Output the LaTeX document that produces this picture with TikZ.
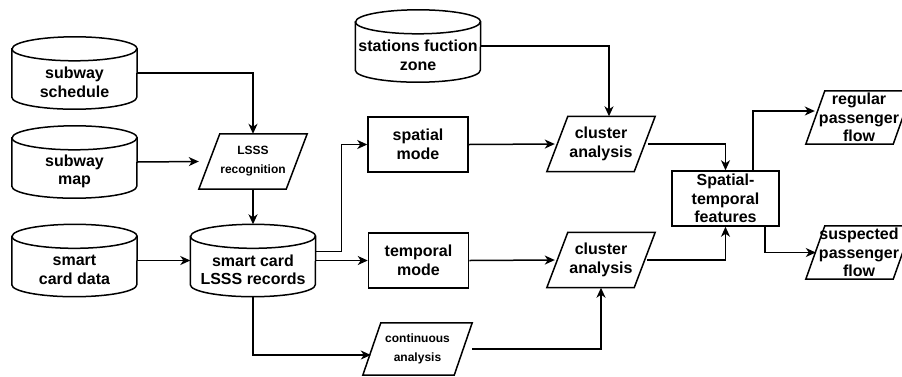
\documentclass[tikz,border=0pt]{standalone}
\usepackage{fontspec}
\setmainfont{Liberation Sans}
\usetikzlibrary{arrows.meta}
\tikzset{
  shp/.style={draw=black, line width=1.5pt, line join=miter},
  cylbox/.style={inner sep=0pt, minimum width=125pt, minimum height=72pt},
  txt/.style={align=center, font=\bfseries\fontsize{16}{18.5}\selectfont, inner sep=0pt},
  smalltxt/.style={align=center, font=\bfseries\fontsize{12}{19}\selectfont, inner sep=0pt},
  parbox/.style={inner sep=0pt},
  rectbox/.style={shp, txt, minimum height=55pt},
  arr/.style={line width=1.5pt, -{Stealth[length=10pt,width=9pt,inset=3pt]}},
}
\newcommand\mycyl[4]{%
  \node[cylbox] (#1) at (#2,#3) {};
  \draw[shp] ([yshift=-12pt]#1.north west) -- ([yshift=12pt]#1.south west)
     arc[start angle=180,end angle=360,x radius=62.5pt,y radius=12pt]
     -- ([yshift=-12pt]#1.north east)
     arc[start angle=0,end angle=180,x radius=62.5pt,y radius=12pt] -- cycle;
  \draw[shp] ([yshift=-12pt]#1.north west)
     arc[start angle=180,end angle=360,x radius=62.5pt,y radius=12pt];
  \node[txt] (#1-t) at ([yshift=-9.5pt]#1.center) {#4};
}
\newcommand\mypar[8]{%
  \node[parbox, #7, minimum width=#4pt, minimum height=#5pt] (#1) at (#2,#3) {#8};
  \draw[shp] (#1.south west) -- ([xshift=#6pt]#1.north west) -- (#1.north east)
     -- ([xshift=-#6pt]#1.south east) -- cycle;
}
\begin{document}
\begin{tikzpicture}[x=1pt,y=-1pt]
\useasboundingbox (0,0) rectangle (902,376);
\clip (0,0) rectangle (902,376);

% cylinders
\mycyl{sched}{74.5}{73}{subway\\schedule}
\mycyl{map}{74.5}{162}{subway\\map}
\mycyl{scd}{74.5}{260.5}{smart\\card data}
\mycyl{rec}{253}{260.5}{smart card\\LSSS records}
\mycyl{zone}{418}{46}{stations fuction\\zone}

% parallelograms
\mypar{lsss}{253}{161.5}{108}{55}{21}{smalltxt}{LSSS\\recognition}
\mypar{caA}{601}{144}{108}{55}{21}{txt}{cluster\\analysis}
\mypar{caB}{601}{260}{108}{55}{21}{txt}{cluster\\analysis}
\mypar{cont}{417.5}{349}{109}{52}{18}{smalltxt}{continuous\\analysis}
\mypar{reg}{859}{117.5}{106}{53}{19}{txt}{regular\\passenger\\flow}
\mypar{susp}{859}{252.5}{106}{53}{19}{txt}{suspected\\passenger\\flow}

% rectangles
\node[rectbox, minimum width=100pt] (spm) at (418,144.5) {spatial\\mode};
\node[rectbox, minimum width=100pt] (tpm) at (418.5,260.5) {temporal\\mode};
\node[rectbox, minimum width=107pt] (feat) at (725.5,198.5) {Spatial-\\temporal\\features};

% connectors
\draw[arr] (sched.east) -| (lsss.north);
\draw[arr] (map.east) -- (lsss.west);
\draw[arr] (lsss.south) -- (rec.north);
\draw[arr] (scd.east) -- (rec.west);
\draw[arr] (rec.east) -- (tpm.west);
\draw[arr] ([yshift=9pt]rec.east) -- ++(26,0) |- (spm.west);
\draw[arr] (rec.south) |- ([shift={(8,6)}]cont.west);
\draw[arr] (cont.east) -| (caB.south);
\draw[arr] (tpm.east) -- ([xshift=8pt]caB.west);
\draw[arr] (spm.east) -- ([xshift=8pt]caA.west);
\draw[arr] (zone.east) -| ([xshift=8pt]caA.north);
\draw[arr] ([xshift=-7pt]caA.east) -| (feat.north);
\draw[arr] ([xshift=-8pt]caB.east) -| (feat.south);
\draw[arr] ([xshift=27.5pt]feat.north) |- ([shift={(9,-6.5)}]reg.west);
\draw[arr] ([xshift=39.5pt]feat.south) |- ([xshift=10pt]susp.west);
\end{tikzpicture}
\end{document}
